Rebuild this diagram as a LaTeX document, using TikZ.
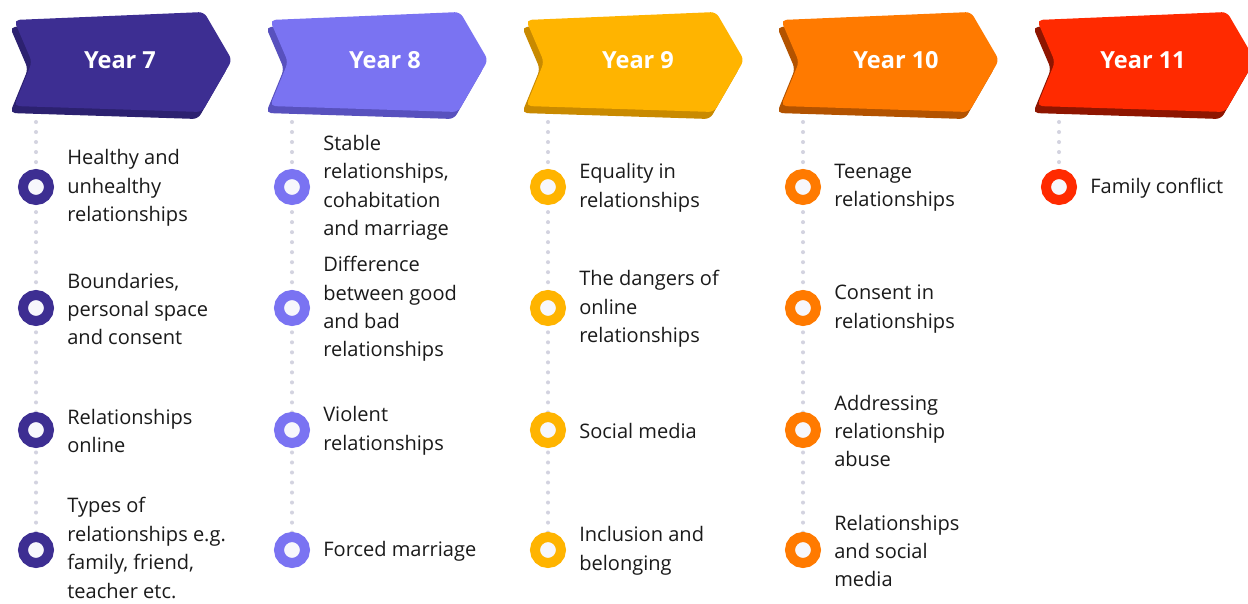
\documentclass[tikz,border=0pt]{standalone}
\usepackage{fontspec}
\setmainfont{Open Sans}
\usetikzlibrary{positioning,backgrounds}

\definecolor{yrseven}{HTML}{3D2E92}
\definecolor{yrsevendk}{HTML}{2C2170}
\definecolor{yreight}{HTML}{7A73F2}
\definecolor{yreightdk}{HTML}{5851BE}
\definecolor{yrnine}{HTML}{FFB400}
\definecolor{yrninedk}{HTML}{C98A00}
\definecolor{yrten}{HTML}{FF7A00}
\definecolor{yrtendk}{HTML}{B35300}
\definecolor{yreleven}{HTML}{FF2A00}
\definecolor{yrelevendk}{HTML}{8E1500}
\definecolor{ringfill}{HTML}{F7F7FC}
\definecolor{dotgray}{HTML}{D3D3E0}
\definecolor{ink}{HTML}{1A1A1A}

\tikzset{
  ring/.style={circle,draw=#1,fill=ringfill,line width=5.67pt,minimum size=0.52cm,inner sep=0pt},
  topic/.style={align=left,inner sep=0pt,yshift=-0.02cm,text=ink,font=\fontsize{11.4}{16.2}\selectfont},
  yeartag/.style={text=white,inner sep=0pt,font=\fontsize{13.4}{16}\selectfont\bfseries},
  dots/.style={dotgray,line width=2.3pt,line cap=round,dash pattern=on 0pt off 5.7pt}
}

\begin{document}
\begin{tikzpicture}[x=0.02cm,y=-0.02cm]
 \clip (0,0) rectangle (1248,603);

 % Year 7
 \fill[yrsevendk,rounded corners=3pt] (10,27)--(200,19)--(228,67)--(198,119)--(10,113)--(28,69)--cycle;
 \fill[yrseven,rounded corners=3pt] (14,20)--(204,12)--(232,60)--(202,112)--(14,106)--(32,62)--cycle;
 \node[yeartag] (y7) at (120,60) {Year 7};
 \coordinate (s7) at (36,122);
 \node[ring=yrseven] (c7a) at (36,187) {};
 \node[ring=yrseven] (c7b) at (36,308) {};
 \node[ring=yrseven] (c7c) at (36,430) {};
 \node[ring=yrseven] (c7d) at (36,550) {};
 \node[topic,right=0.26cm of c7a] (t7a) {Healthy and\\unhealthy\\relationships};
 \node[topic,right=0.26cm of c7b] (t7b) {Boundaries,\\personal space\\and consent};
 \node[topic,right=0.26cm of c7c] (t7c) {Relationships\\online};
 \node[topic,yshift=0.06cm,right=0.26cm of c7d] (t7d) {Types of\\relationships e.g.\\family, friend,\\teacher etc.};

 % Year 8
 \fill[yreightdk,rounded corners=3pt] (266,27)--(456,19)--(484,67)--(454,119)--(266,113)--(284,69)--cycle;
 \fill[yreight,rounded corners=3pt] (270,20)--(460,12)--(488,60)--(458,112)--(270,106)--(288,62)--cycle;
 \node[yeartag] (y8) at (385,60) {Year 8};
 \coordinate (s8) at (292,122);
 \node[ring=yreight] (c8a) at (292,187) {};
 \node[ring=yreight] (c8b) at (292,308) {};
 \node[ring=yreight] (c8c) at (292,430) {};
 \node[ring=yreight] (c8d) at (292,550) {};
 \node[topic,right=0.26cm of c8a] (t8a) {Stable\\relationships,\\cohabitation\\and marriage};
 \node[topic,right=0.26cm of c8b] (t8b) {Difference\\between good\\and bad\\relationships};
 \node[topic,right=0.26cm of c8c] (t8c) {Violent\\relationships};
 \node[topic,right=0.26cm of c8d] (t8d) {Forced marriage};

 % Year 9
 \fill[yrninedk,rounded corners=3pt] (522,27)--(712,19)--(740,67)--(710,119)--(522,113)--(540,69)--cycle;
 \fill[yrnine,rounded corners=3pt] (526,20)--(716,12)--(744,60)--(714,112)--(526,106)--(544,62)--cycle;
 \node[yeartag] (y9) at (638,60) {Year 9};
 \coordinate (s9) at (548,122);
 \node[ring=yrnine] (c9a) at (548,187) {};
 \node[ring=yrnine] (c9b) at (548,308) {};
 \node[ring=yrnine] (c9c) at (548,430) {};
 \node[ring=yrnine] (c9d) at (548,550) {};
 \node[topic,right=0.26cm of c9a] (t9a) {Equality in\\relationships};
 \node[topic,right=0.26cm of c9b] (t9b) {The dangers of\\online\\relationships};
 \node[topic,right=0.26cm of c9c] (t9c) {Social media};
 \node[topic,right=0.26cm of c9d] (t9d) {Inclusion and\\belonging};

 % Year 10
 \fill[yrtendk,rounded corners=3pt] (777,27)--(967,19)--(995,67)--(965,119)--(777,113)--(795,69)--cycle;
 \fill[yrten,rounded corners=3pt] (781,20)--(971,12)--(999,60)--(969,112)--(781,106)--(799,62)--cycle;
 \node[yeartag] (y10) at (896,60) {Year 10};
 \coordinate (s10) at (803,122);
 \node[ring=yrten] (c10a) at (803,187) {};
 \node[ring=yrten] (c10b) at (803,308) {};
 \node[ring=yrten] (c10c) at (803,430) {};
 \node[ring=yrten] (c10d) at (803,550) {};
 \node[topic,right=0.26cm of c10a] (t10a) {Teenage\\relationships};
 \node[topic,right=0.26cm of c10b] (t10b) {Consent in\\relationships};
 \node[topic,right=0.26cm of c10c] (t10c) {Addressing\\relationship\\abuse};
 \node[topic,right=0.26cm of c10d] (t10d) {Relationships\\and social\\media};

 % Year 11
 \fill[yrelevendk,rounded corners=3pt] (1033,27)--(1223,19)--(1251,67)--(1221,119)--(1033,113)--(1051,69)--cycle;
 \fill[yreleven,rounded corners=3pt] (1037,20)--(1227,12)--(1255,60)--(1225,112)--(1037,106)--(1055,62)--cycle;
 \node[yeartag] (y11) at (1143,60) {Year 11};
 \coordinate (s11) at (1059,122);
 \node[ring=yreleven] (c11a) at (1059,187) {};
 \node[topic,right=0.26cm of c11a] (t11a) {Family conflict};

 \begin{pgfonlayer}{background}
  \fill[white] (0,0) rectangle (1248,603);
  \draw[dots] (s7) -- (c7d.center);
  \draw[dots] (s8) -- (c8d.center);
  \draw[dots] (s9) -- (c9d.center);
  \draw[dots] (s10) -- (c10d.center);
  \draw[dots] (s11) -- (c11a.center);
 \end{pgfonlayer}
\end{tikzpicture}
\end{document}
